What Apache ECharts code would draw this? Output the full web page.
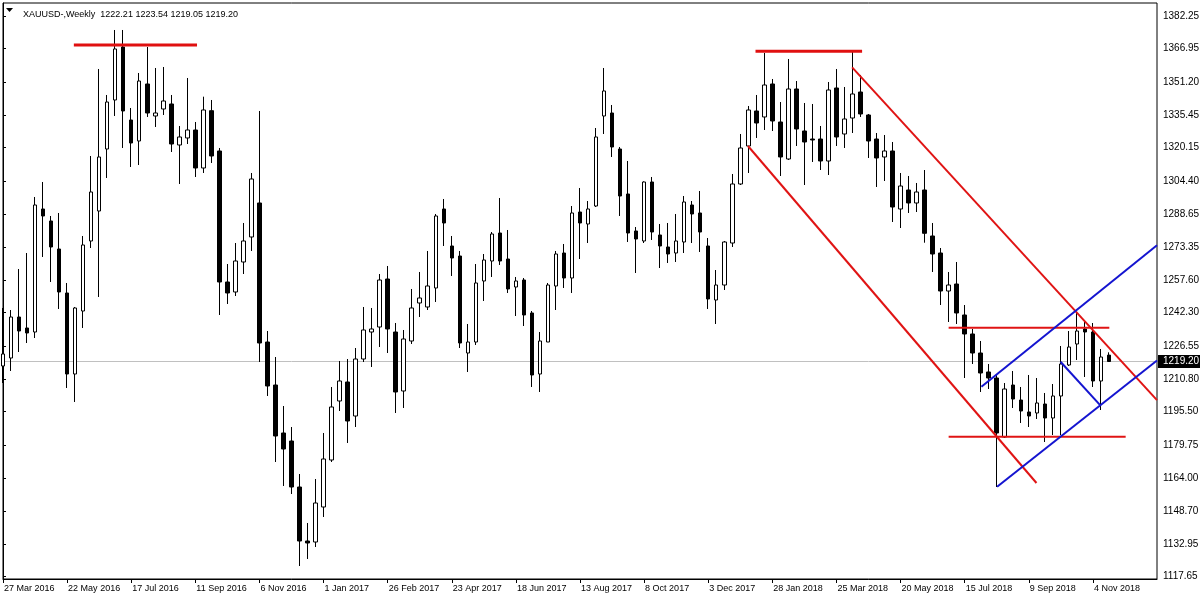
<!DOCTYPE html>
<html>
<head>
<meta charset="utf-8">
<script src="https://cdn.jsdelivr.net/npm/echarts@6/dist/echarts.min.js"></script>
<style>
html,body{margin:0;padding:0;background:#fff;}
#chart{width:1200px;height:600px;}
</style>
</head>
<body>
<div id="chart"></div>
<script>
// ---- data (weekly XAUUSD) ----
const symbolName = 'XAUUSD-,Weekly';
const tickLabels = ['27 Mar 2016','22 May 2016','17 Jul 2016','11 Sep 2016','6 Nov 2016','1 Jan 2017','26 Feb 2017','23 Apr 2017','18 Jun 2017','13 Aug 2017','8 Oct 2017','3 Dec 2017','28 Jan 2018','25 Mar 2018','20 May 2018','15 Jul 2018','9 Sep 2018','4 Nov 2018'];
const priceTicks = [1117.65,1132.95,1148.70,1164.00,1179.75,1195.50,1210.80,1226.55,1242.30,1257.60,1273.35,1288.65,1304.40,1320.15,1335.45,1351.20,1366.95,1382.25];

const opens = [1217.08,1220.85,1240.20,1235.01,1233.12,1291.17,1285.51,1272.29,1251.53,1213.30,
1243.03,1276.07,1290.22,1319.48,1342.61,1367.62,1333.17,1323.26,1350.16,1335.06,
1338.36,1340.72,1321.37,1324.68,1328.45,1310.52,1337.56,1318.54,1256.72,1252.00,
1266.16,1277.96,1294.00,1228.40,1208.11,1185.46,1181.68,1159.97,1134.49,1134.02,
1150.54,1172.72,1200.56,1209.53,1193.48,1220.38,1233.12,1235.48,1258.13,1233.12,
1205.28,1228.88,1246.81,1244.92,1253.89,1291.17,1273.71,1268.98,1223.21,1228.40,
1257.19,1266.63,1279.84,1267.57,1254.36,1257.66,1242.09,1213.30,1228.40,1254.83,
1270.40,1258.61,1289.75,1284.09,1292.58,1335.06,1336.47,1319.48,1298.25,1280.79,
1276.07,1303.91,1278.90,1273.24,1270.40,1275.60,1293.06,1289.28,1273.71,1248.22,
1255.30,1275.12,1302.97,1320.90,1337.42,1334.59,1350.16,1332.23,1314.76,1347.80,
1327.98,1324.20,1324.20,1313.82,1348.27,1326.56,1334.11,1346.38,1335.53,1324.20,
1315.71,1318.54,1291.17,1300.14,1294.00,1300.14,1278.43,1270.40,1252.47,1255.77,
1241.15,1232.18,1223.21,1214.25,1211.41,1183.57,1208.11,1201.03,1195.37,1194.90,
1199.14,1192.54,1202.92,1217.55,1227.46,1234.54,1233.12,1210.00,1222.21];

const highs = [1244.45,1243.50,1262.85,1270.40,1296.83,1303.91,1287.87,1289.28,1256.25,1244.92,
1278.43,1316.18,1357.24,1344.97,1375.64,1375.64,1338.83,1355.35,1367.62,1357.71,
1358.18,1344.97,1330.34,1352.99,1332.23,1344.17,1342.61,1319.96,1265.21,1275.12,
1284.56,1308.16,1337.42,1233.59,1221.32,1198.20,1188.29,1166.11,1142.99,1163.75,
1185.46,1207.17,1219.44,1220.38,1225.57,1244.92,1244.45,1260.49,1264.27,1237.37,
1234.07,1253.42,1261.44,1271.35,1288.81,1295.89,1278.43,1271.35,1236.90,1265.21,
1269.93,1280.31,1296.36,1281.26,1259.08,1258.61,1243.03,1233.12,1256.25,1271.35,
1274.65,1292.58,1301.08,1294.94,1329.39,1357.71,1340.25,1320.43,1313.82,1282.67,
1304.20,1306.27,1284.09,1284.56,1288.81,1297.30,1294.94,1299.66,1277.48,1262.38,
1276.07,1307.69,1326.56,1339.78,1344.97,1364.79,1352.52,1341.66,1361.96,1351.57,
1341.19,1340.72,1330.34,1351.10,1357.24,1348.74,1365.26,1354.41,1336.00,1327.03,
1326.09,1322.79,1308.16,1306.74,1303.44,1309.57,1284.56,1272.76,1261.44,1266.16,
1245.86,1234.54,1228.88,1218.02,1212.83,1209.05,1214.72,1207.17,1212.83,1211.41,
1204.34,1208.58,1226.52,1233.59,1242.56,1237.84,1237.37,1225.10,1223.54];

const lows = [1209.05,1214.72,1223.68,1227.93,1230.29,1268.52,1256.72,1243.98,1206.70,1200.09,
1235.01,1272.76,1249.64,1305.80,1335.06,1319.96,1310.99,1311.93,1334.59,1329.87,
1335.53,1318.07,1302.97,1321.84,1306.27,1308.16,1312.88,1241.15,1246.34,1250.11,
1260.49,1271.35,1218.96,1202.92,1171.77,1160.45,1156.67,1122.69,1126.00,1131.66,
1145.82,1171.77,1195.84,1180.74,1188.29,1218.96,1216.61,1226.04,1223.21,1194.90,
1197.26,1227.46,1240.20,1243.50,1247.28,1273.71,1259.55,1225.57,1214.25,1226.99,
1247.75,1259.08,1264.74,1251.53,1240.67,1235.95,1207.17,1204.81,1228.40,1243.50,
1253.89,1251.53,1267.57,1275.12,1292.11,1326.56,1315.71,1287.87,1275.60,1260.97,
1275.12,1276.54,1263.32,1265.69,1266.16,1270.40,1275.12,1270.88,1243.98,1236.90,
1252.94,1273.24,1302.49,1308.16,1324.68,1328.45,1327.98,1306.74,1314.30,1320.90,
1302.49,1313.35,1309.57,1307.21,1320.90,1319.96,1327.03,1334.59,1315.24,1301.55,
1304.38,1285.03,1282.20,1289.28,1289.75,1275.26,1261.44,1245.86,1237.84,1236.90,
1211.41,1218.02,1204.81,1206.22,1159.97,1183.10,1197.26,1190.18,1188.29,1192.07,
1181.21,1184.51,1184.51,1217.08,1219.91,1211.89,1207.17,1196.31,1219.05];

const closes = [1222.74,1240.20,1233.59,1232.65,1293.06,1287.87,1273.24,1252.00,1213.30,1244.45,
1274.18,1299.19,1315.71,1341.66,1366.68,1337.42,1322.32,1351.57,1336.47,1336.47,
1342.14,1321.84,1325.15,1328.45,1310.52,1337.89,1316.18,1256.72,1251.53,1266.63,
1276.07,1305.33,1227.93,1207.64,1184.04,1177.91,1159.97,1134.49,1133.55,1152.42,
1173.19,1197.73,1210.00,1191.12,1220.38,1234.07,1234.54,1257.66,1234.54,1204.81,
1229.82,1244.45,1249.17,1254.83,1287.87,1284.56,1268.04,1227.93,1228.40,1256.25,
1267.10,1279.37,1266.63,1253.42,1257.19,1241.15,1212.83,1228.88,1255.30,1269.93,
1258.61,1289.28,1284.56,1291.17,1325.15,1346.86,1320.43,1297.30,1279.84,1277.01,
1303.91,1280.31,1273.71,1269.93,1276.07,1294.47,1288.81,1280.31,1248.70,1255.30,
1275.60,1302.97,1319.96,1337.89,1331.75,1349.69,1332.70,1315.71,1347.80,1328.92,
1322.79,1323.73,1313.82,1347.33,1325.15,1333.64,1345.44,1336.00,1323.26,1315.24,
1318.54,1292.11,1302.02,1294.00,1299.19,1279.70,1269.93,1252.47,1255.30,1242.09,
1232.18,1223.21,1213.77,1211.41,1185.46,1206.22,1201.50,1195.84,1193.48,1199.62,
1192.54,1202.92,1218.02,1226.04,1233.59,1233.12,1210.00,1221.32,1219.20];

// drawn objects: [weekIndex, price] end points
const redThickLines = [
  [[8.84,1368.56],[24.21,1368.56]],
  [[93.9,1365.59],[107.2,1365.59]]
];
const redLines = [
  [[92.96,1320.9],[128.96,1161.86]],
  [[105.96,1358.0],[144,1201.0]],
  [[118.0,1235.15],[138.05,1235.15]],
  [[118.0,1183.7],[140.09,1183.7]]
];
const blueLines = [
  [[122.09,1207.3],[144,1274.05]],
  [[124.05,1160.1],[144,1219.7]],
  [[131.96,1219.1],[136.96,1198.4]]
];

const slots = 145; // weeks incl. empty right margin
const yMin = 1116.56, yMax = 1388.38;

// ---- build ----
const firstWeek = Date.UTC(2016, 2, 27);
const weeks = Array.from({length: slots}, (_, i) => new Date(firstWeek + i * 7 * 864e5).toISOString().slice(0, 10));
const candles = opens.map((o, i) => [o, closes[i], lows[i], highs[i]]);
const last = candles.length - 1;
const lastClose = closes[last];
const FONT = 'Liberation Sans';
const showTick = (i) => i % 8 === 0 && i / 8 < tickLabels.length;

function lineSeries(pts, color, width) {
  return {
    type: 'line', xAxisIndex: 1, yAxisIndex: 0, data: pts, symbol: 'none',
    lineStyle: {color: color, width: width}, silent: true, z: 5, animation: false
  };
}

const series = [
  {type: 'line', xAxisIndex: 1, yAxisIndex: 0, data: [[0, lastClose], [slots - 1, lastClose]], symbol: 'none',
   lineStyle: {color: '#c0c0c0', width: 1}, silent: true, z: 1, animation: false},
  {type: 'candlestick', xAxisIndex: 0, yAxisIndex: 0, data: candles, barWidth: 4, z: 3, animation: false,
   itemStyle: {color: '#ffffff', color0: '#000000', borderColor: '#000000', borderColor0: '#000000', borderColorDoji: '#000000', borderWidth: 1}}
];
redThickLines.forEach(p => series.push(lineSeries(p, '#e01010', 3)));
redLines.forEach(p => series.push(lineSeries(p, '#e01414', 2)));
blueLines.forEach(p => series.push(lineSeries(p, '#1414d0', 2)));

const chart = echarts.init(document.getElementById('chart'), null, {renderer: 'canvas'});
chart.setOption({
  animation: false,
  backgroundColor: '#ffffff',
  title: {
    text: symbolName + '  ' + [opens[last], highs[last], lows[last], closes[last]].map(v => v.toFixed(2)).join(' '),
    left: 18, top: 5,
    textStyle: {fontSize: 9, fontWeight: 'normal', color: '#000', fontFamily: FONT}
  },
  graphic: [{type: 'polygon', shape: {points: [[6, 8], [13, 8], [9.5, 12]]}, style: {fill: '#000'}}],
  grid: {left: 3, top: 3, right: 43, bottom: 21, show: true, borderColor: '#000', borderWidth: 1, backgroundColor: '#fff',
    containLabel: false, outerBoundsMode: 'none'},
  xAxis: [{
    type: 'category', data: weeks, boundaryGap: false,
    axisLine: {show: true, lineStyle: {color: '#000', width: 1}},
    axisTick: {show: true, interval: (i) => showTick(i), length: 4, lineStyle: {color: '#000'}},
    axisLabel: {interval: (i) => showTick(i), formatter: (v, i) => showTick(i) ? tickLabels[i / 8] : '',
      align: 'left', margin: 5, padding: [0, 0, 0, 1], fontSize: 9, color: '#000', fontFamily: FONT,
      hideOverlap: false},
    splitLine: {show: false}
  }, {
    type: 'value', min: 0, max: slots - 1, show: false
  }],
  yAxis: [{
    type: 'value', position: 'right', min: yMin, max: yMax, scale: true,
    splitLine: {show: false},
    axisLine: {show: true, lineStyle: {color: '#000'}},
    axisTick: {show: true, length: 3, customValues: priceTicks, lineStyle: {color: '#000'}},
    axisLabel: {customValues: priceTicks, formatter: (v) => v.toFixed(2), fontSize: 10, color: '#000', margin: 6, fontFamily: FONT}
  }, {
    type: 'value', position: 'right', min: yMin, max: yMax, scale: true,
    splitLine: {show: false}, axisLine: {show: false}, axisTick: {show: false},
    axisLabel: {customValues: [lastClose], formatter: (v) => v.toFixed(2), fontSize: 10, color: '#fff',
      backgroundColor: '#000', padding: [2, 6, 1, 5], margin: 1, fontFamily: FONT}
  }],
  series: series
});
</script>
</body>
</html>
